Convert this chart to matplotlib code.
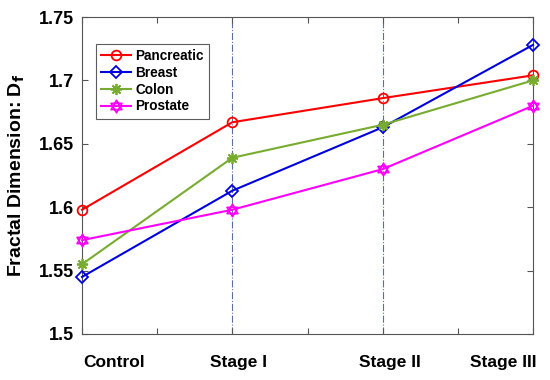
import matplotlib
matplotlib.use("Agg")
import matplotlib.pyplot as plt
from matplotlib.transforms import blended_transform_factory
from matplotlib.path import Path
import numpy as np

plt.rcParams['font.family'] = ['Liberation Sans', 'DejaVu Sans']
plt.rcParams['font.weight'] = 'bold'

categories = ["Control", "Stage I", "Stage II", "Stage III"]
pancreatic = [1.598, 1.667, 1.686, 1.704]
breast = [1.545, 1.613, 1.663, 1.728]
colon = [1.555, 1.639, 1.665, 1.700]
prostate = [1.574, 1.598, 1.630, 1.680]
ytick_vals = [1.5, 1.55, 1.6, 1.65, 1.7, 1.75]
ytick_labels = ["1.5", "1.55", "1.6", "1.65", "1.7", "1.75"]

x = list(range(len(categories)))

# hexagram marker (two overlapping triangles)
ang1 = np.deg2rad([90, 210, 330, 90])
ang2 = np.deg2rad([270, 30, 150, 270])
verts = [(np.cos(a), np.sin(a)) for a in ang1] + [(np.cos(a), np.sin(a)) for a in ang2]
codes = [Path.MOVETO, Path.LINETO, Path.LINETO, Path.CLOSEPOLY] * 2
hexagram = Path(verts, codes)

fig = plt.figure(figsize=(5.5, 3.8), dpi=100)
ax = fig.add_axes([82/550, 1 - 334/380, (533-82)/550, (334-17)/380])

for xv in [1, 2]:
    ax.axvline(xv, color='#5a6ea0', lw=0.8, ls='-.', zorder=1)

lw = 1.5
ax.plot(x, pancreatic, color='#ff0000', marker='o', ms=7, mfc='none', mew=1.3, lw=lw, label='Pancreatic', clip_on=False, zorder=3)
ax.plot(x, breast, color='#0000dd', marker='D', ms=6, mfc='none', mew=1.3, lw=lw, label='Breast', clip_on=False, zorder=3)
ax.plot(x, colon, color='#77ac30', marker=(8, 2, 0), ms=8, mew=1.3, lw=lw, label='Colon', clip_on=False, zorder=3)
ax.plot(x, prostate, color='#ff00ff', marker=hexagram, ms=9, mfc='none', mew=1.2, lw=lw, label='Prostate', clip_on=False, zorder=3)

ax.set_xlim(0, 3)
ax.set_ylim(1.5, 1.75)
ax.set_xticks([0, 0.5, 1, 1.5, 2, 2.5, 3])
ax.set_xticklabels([])
ax.set_yticks(ytick_vals)
ax.set_yticklabels(ytick_labels, fontsize=13, fontweight='bold')
ax.tick_params(direction='in', top=True, right=True, length=4, color='#555555', width=0.8, pad=6)

label_pos = [0.21, 1.04, 2.05, 2.8]
trans = blended_transform_factory(ax.transData, ax.transAxes)
for xp, lab in zip(label_pos, categories):
    ax.text(xp, -0.09, lab, transform=trans, ha='center', va='center', fontsize=12.5, fontweight='bold')

for s in ax.spines.values():
    s.set_color('#555555')
    s.set_linewidth(0.8)

ax.set_ylabel(r'Fractal Dimension: D$_\mathbf{f}$', fontsize=14, fontweight='bold', labelpad=8)

leg = ax.legend(loc='upper left', bbox_to_anchor=(0.015, 0.937), fontsize=9.8, frameon=True, fancybox=False,
                edgecolor='#333333', handlelength=2.2, handletextpad=0.3, borderpad=0.4, labelspacing=0.2)
leg.get_frame().set_linewidth(0.8)
for t in leg.get_texts():
    t.set_fontweight('bold')

fig.savefig('out.png', dpi=100)
